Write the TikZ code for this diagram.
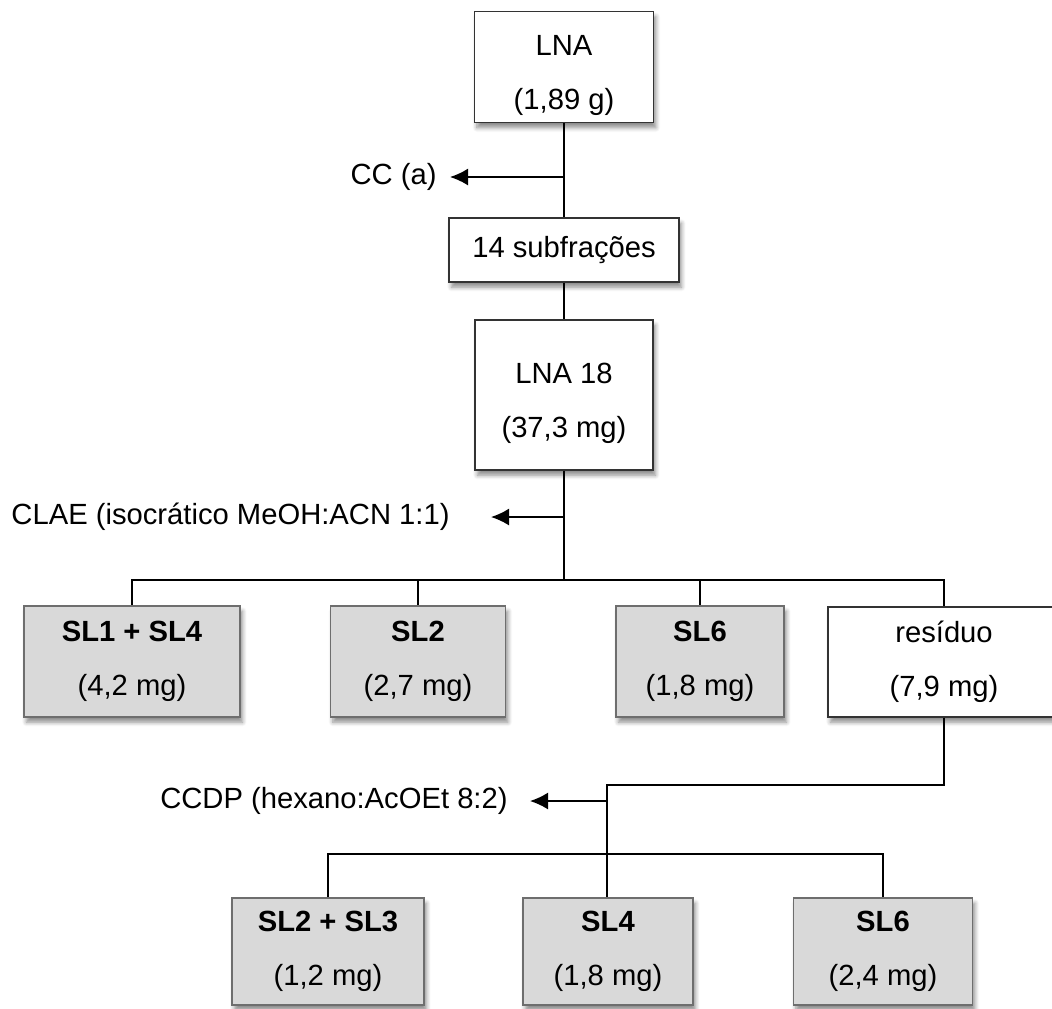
\documentclass[tikz,border=0pt]{standalone}
\usepackage{fontspec}
\setmainfont{Liberation Sans}
\usepackage{xcolor}
\usetikzlibrary{arrows.meta, shadows.blur}
\definecolor{box-gray}{HTML}{D9D9D9}
\definecolor{edge-gray}{HTML}{6E6E6E}
\definecolor{edge-dark}{HTML}{333333}

\begin{document}
\begin{tikzpicture}[x=0.5pt, y=-0.5pt,
      every node/.style={font=\fontsize{14.6}{27}\selectfont},
      boxbase/.style={rectangle, align=center, line width=0.6pt,
          blur shadow={shadow xshift=1.2pt, shadow yshift=-2.6pt,
                       shadow blur steps=6, shadow opacity=45}},
      whitebox/.style={boxbase, draw=edge-dark, fill=white},
      graybox/.style={boxbase, draw=edge-gray, fill=box-gray},
      stepnote/.style={anchor=east, inner sep=0pt},
      link/.style={line width=0.85pt},
      sidearrow/.style={link, -{Latex[length=9pt, width=8.5pt]}}]
    \useasboundingbox (0,0) rectangle (1052,1008);

    % first column
    \node[whitebox, minimum width=89.5pt, minimum height=52pt]
          (LNA) at (564,67) {\strut LNA\\(1,89 g)};
    \node[whitebox, minimum width=115pt, minimum height=32pt]
          (SUB) at (564,250) {14 subfrações};
    \node[whitebox, minimum width=89pt, minimum height=75pt]
          (LNA18) at (564,395) {\strut LNA 18\\(37,3 mg)};

    % CLAE fractions
    \node[graybox, minimum width=108pt, minimum height=55.5pt]
          (SL14) at (132,661.5) {\textbf{SL1 + SL4}\\(4,2 mg)};
    \node[graybox, minimum width=87.5pt, minimum height=55.5pt]
          (SL2) at (418,661.5) {\textbf{SL2}\\(2,7 mg)};
    \node[graybox, minimum width=84pt, minimum height=55.5pt]
          (SL6A) at (700,661.5) {\textbf{SL6}\\(1,8 mg)};
    \node[whitebox, minimum width=116pt, minimum height=55pt]
          (RES) at (944,662) {resíduo\\(7,9 mg)};

    % CCDP fractions
    \node[graybox, minimum width=96pt, minimum height=53.5pt]
          (SL23) at (328,951.5) {\textbf{SL2 + SL3}\\(1,2 mg)};
    \node[graybox, minimum width=85pt, minimum height=53.5pt]
          (SL4) at (608,951.5) {\textbf{SL4}\\(1,8 mg)};
    \node[graybox, minimum width=89.5pt, minimum height=53.5pt]
          (SL6B) at (883,951.5) {\textbf{SL6}\\(2,4 mg)};

    % method labels
    \node[stepnote] (CC) at (437,177) {CC (a)};
    \node[stepnote] (CLAE) at (450,517) {CLAE (isocrático MeOH:ACN 1:1)};
    \node[stepnote] (CCDP) at (508,801) {CCDP (hexano:AcOEt 8:2)};

    \coordinate (ccfork) at (564,177);
    \coordinate (cctip) at (450,177);
    \coordinate (claefork) at (564,517);
    \coordinate (claetip) at (491,517);
    \coordinate (bar1) at (564,580);
    \coordinate (knee) at (607,785);
    \coordinate (ccdpfork) at (607,801);
    \coordinate (ccdptip) at (530,801);
    \coordinate (bar2) at (607,854);

    \draw[link] (LNA.south) -- (SUB.north);
    \draw[sidearrow] (ccfork) -- (cctip);
    \draw[link] (SUB.south) -- (LNA18.north);
    \draw[link] (LNA18.south) -- (bar1);
    \draw[sidearrow] (claefork) -- (claetip);
    \foreach \frac in {SL14, SL2, SL6A, RES}
      \draw[link] (bar1) -| (\frac.north);
    \draw[link] (RES.south) |- (knee) -- (SL4.north -| knee);
    \draw[sidearrow] (ccdpfork) -- (ccdptip);
    \foreach \frac in {SL23, SL6B}
      \draw[link] (bar2) -| (\frac.north);
\end{tikzpicture}
\end{document}
